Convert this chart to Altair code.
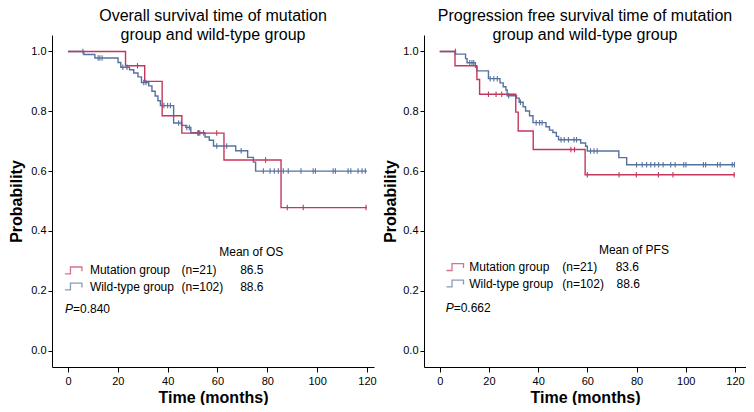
import altair as alt
import pandas as pd

FONT = "Liberation Sans"
RED = "#c4375c"
BLUE = "#55729f"
GROUPS = ["Wild-type group", "Mutation group"]

# ---------------- Overall survival (OS) ----------------
os_mut_t = [0, 23.1, 30.8, 37.8, 45.7, 62.6, 85.5, 120]
os_mut_p = [1.0, 0.952, 0.900, 0.785, 0.727, 0.637, 0.478, 0.478]
os_mut_ct = [27.9, 52.1, 52.9, 59.7, 79.3, 88.0, 94.4, 119.6]
os_mut_cp = [0.952, 0.727, 0.727, 0.727, 0.637, 0.478, 0.478, 0.478]

os_wt_t = [0, 6.4, 10.8, 20.1, 21.2, 24.7, 26.4, 28.1, 29.5, 32.4, 33.7, 35.0,
           36.1, 37.1, 42.4, 45.7, 47.3, 49.3, 55.0, 56.7, 58.4, 67.3, 72.1,
           74.4, 75.3, 120]
os_wt_p = [1.0, 0.990, 0.978, 0.963, 0.947, 0.939, 0.928, 0.915, 0.896, 0.885,
           0.867, 0.851, 0.835, 0.819, 0.761, 0.753, 0.746, 0.728, 0.714, 0.703,
           0.684, 0.668, 0.646, 0.630, 0.600, 0.600]
os_wt_ct = [6.0, 12.1, 12.8, 13.7, 22.0, 23.7, 30.4, 31.3, 38.5, 40.0, 41.1,
            44.4, 45.5, 47.7, 48.7, 52.4, 54.4, 59.7, 63.7, 69.5,
            78.4, 81.1, 82.8, 84.4, 86.4, 88.4, 93.5, 98.4, 99.3, 106.4, 107.3,
            112.4, 113.5, 116.4, 118.0, 119.3]
os_wt_cp = [1.0, 0.978, 0.978, 0.978, 0.947, 0.947, 0.896, 0.896, 0.819, 0.819,
            0.819, 0.761, 0.761, 0.746, 0.746, 0.728, 0.728, 0.684, 0.684, 0.668,
            0.600, 0.600, 0.600, 0.600, 0.600, 0.600, 0.600, 0.600, 0.600, 0.600,
            0.600, 0.600, 0.600, 0.600, 0.600, 0.600]

# ---------------- Progression free survival (PFS) ----------------
pfs_mut_t = [0, 6.2, 15.1, 16.2, 30.9, 31.9, 38.0, 59.1, 120]
pfs_mut_p = [1.0, 0.952, 0.906, 0.857, 0.797, 0.734, 0.672, 0.588, 0.588]
pfs_mut_ct = [19.8, 22.9, 25.2, 53.3, 54.8, 60.0, 72.9, 79.9, 88.9, 94.8, 119.7]
pfs_mut_cp = [0.857, 0.857, 0.857, 0.672, 0.672, 0.588, 0.588, 0.588, 0.588,
              0.588, 0.588]

pfs_wt_t = [0, 6.4, 10.5, 11.1, 14.5, 15.1, 19.8, 24.5, 25.8, 26.9, 27.4, 31.2,
            32.3, 33.9, 34.9, 36.5, 37.9, 43.2, 44.6, 46.0, 47.4, 48.3, 57.3,
            59.3, 60.0, 72.8, 76.0, 120]
pfs_wt_p = [1.0, 0.991, 0.976, 0.962, 0.948, 0.935, 0.909, 0.895, 0.882, 0.871,
            0.852, 0.844, 0.830, 0.815, 0.801, 0.785, 0.762, 0.748, 0.737, 0.729,
            0.716, 0.705, 0.694, 0.683, 0.667, 0.645, 0.621, 0.621]
pfs_wt_ct = [6.4, 12.2, 13.1, 13.8, 20.5, 22.0, 23.4, 28.0, 32.8, 39.2, 40.6,
             41.6, 49.3, 50.6, 52.3, 54.6, 55.6, 61.3, 62.7, 64.0,
             80.0, 82.3, 84.1, 85.8, 87.4, 89.0, 90.8, 93.9, 95.7, 99.2, 100.1,
             107.2, 108.1, 112.9, 114.0, 118.9, 119.8]
pfs_wt_cp = [1.0, 0.962, 0.962, 0.962, 0.909, 0.909, 0.909, 0.852, 0.830,
             0.762, 0.762, 0.762, 0.705, 0.705, 0.705, 0.705, 0.705, 0.667,
             0.667, 0.667] + [0.621] * 17

# legend / annotation texts
os_title = ["Overall survival time of mutation", "group and wild-type group"]
pfs_title = ["Progression free survival time of mutation", "group and wild-type group"]
group_labels = ["Mutation group", "Wild-type group"]
n_labels = ["(n=21)", "(n=102)"]
os_means = ["86.5", "88.6"]
pfs_means = ["83.6", "88.6"]
os_pval = "=0.840"
pfs_pval = "=0.662"

# annotation layout (data coordinates)
OS_LAYOUT = dict(head=(60.7, 0.331), rows=(0.268, 0.214), icon=2.2, name=8.8,
                 n=45.6, mean=69.1, pv=(-1.2, 0.138), head_text="Mean of OS")
PFS_LAYOUT = dict(head=(64.7, 0.335), rows=(0.279, 0.224), icon=6.2, name=12.0,
                  n=49.8, mean=(71.5, 71.9), pv=(2.4, 0.142), head_text="Mean of PFS")


def panel(title, mut, wt, means, pval, lay, xmax, width, ytp):
    lines = pd.concat([
        pd.DataFrame({"t": wt[0], "p": wt[1], "g": GROUPS[0]}),
        pd.DataFrame({"t": mut[0], "p": mut[1], "g": GROUPS[1]}),
    ])
    cens = pd.concat([
        pd.DataFrame({"t": wt[2], "p": wt[3], "g": GROUPS[0]}),
        pd.DataFrame({"t": mut[2], "p": mut[3], "g": GROUPS[1]}),
    ])
    X = alt.X("t:Q", scale=alt.Scale(domain=[-6.4, xmax], nice=False, zero=False),
              axis=alt.Axis(values=[0, 20, 40, 60, 80, 100, 120], title="Time (months)",
                            tickSize=5, labelPadding=3, titlePadding=3))
    Y = alt.Y("p:Q", scale=alt.Scale(domain=[-0.055, 1.055], nice=False, zero=False),
              axis=alt.Axis(values=[0, 0.2, 0.4, 0.6, 0.8, 1.0], format=".1f",
                            title="Probability", tickSize=4, labelPadding=2,
                            titlePadding=ytp))
    C = alt.Color("g:N", scale=alt.Scale(domain=GROUPS, range=[BLUE, RED]), legend=None)

    line_l = alt.Chart(lines).mark_line(interpolate="step-after", strokeWidth=1.4).encode(
        x=X, y=Y, color=C, detail="g:N")
    cens_l = alt.Chart(cens).mark_point(shape="M0,-1L0,1", size=30, filled=False,
                                        strokeWidth=1.1, opacity=1).encode(x=X, y=Y, color=C)

    mean_x = lay["mean"] if isinstance(lay["mean"], tuple) else (lay["mean"], lay["mean"])
    icons = pd.DataFrame({"t": [lay["icon"], lay["icon"]], "p": list(lay["rows"]),
                          "g": [GROUPS[1], GROUPS[0]]})
    icon_l = alt.Chart(icons).mark_point(
        shape="M-1,0.4L-0.35,0.4L-0.35,-0.4L1,-0.4L1,0.1", size=289, filled=False,
        strokeWidth=1.3, opacity=0.7).encode(x=X, y=Y, color=C)

    txt = pd.DataFrame({
        "t": [lay["head"][0]] + [lay["name"]] * 2 + [lay["n"]] * 2 + list(mean_x),
        "p": [lay["head"][1]] + list(lay["rows"]) * 3,
        "label": [lay["head_text"]] + group_labels + n_labels + means,
    })
    txt_l = alt.Chart(txt).mark_text(align="left", baseline="middle", font=FONT,
                                     fontSize=12, color="black").encode(
        x=X, y=Y, text="label:N")
    pv = pd.DataFrame({"t": [lay["pv"][0]], "p": [lay["pv"][1]], "a": ["P"], "b": [pval]})
    p_l = alt.Chart(pv).mark_text(align="left", baseline="middle", font=FONT, fontSize=12,
                                  fontStyle="italic", color="black").encode(x=X, y=Y, text="a:N")
    v_l = alt.Chart(pv).mark_text(align="left", baseline="middle", font=FONT, fontSize=12,
                                  dx=8, color="black").encode(x=X, y=Y, text="b:N")

    return alt.layer(line_l, cens_l, icon_l, txt_l, p_l, v_l).properties(
        width=width, height=332,
        title=alt.TitleParams(text=title, fontSize=16, fontWeight="normal", font=FONT,
                              anchor="middle", offset=-8, lineHeight=19, color="black"))


left = panel(os_title, (os_mut_t, os_mut_p, os_mut_ct, os_mut_cp),
             (os_wt_t, os_wt_p, os_wt_ct, os_wt_cp), os_means,
             os_pval, OS_LAYOUT, 122.8, 322, 6)
right = panel(pfs_title, (pfs_mut_t, pfs_mut_p, pfs_mut_ct, pfs_mut_cp),
              (pfs_wt_t, pfs_wt_p, pfs_wt_ct, pfs_wt_cp), pfs_means,
              pfs_pval, PFS_LAYOUT, 124.5, 322, 4)

chart = alt.hconcat(left, right, spacing=5).properties(padding=0).configure_view(
    stroke=None).configure_axis(
    grid=False, domainColor="black", tickColor="black", labelColor="black",
    titleColor="black", labelFont=FONT, titleFont=FONT, labelFontSize=11,
    titleFontSize=16, titleFontWeight="bold", domainWidth=1, tickWidth=1)

chart.save("out.html", embed_options={"renderer": "svg", "actions": False})
